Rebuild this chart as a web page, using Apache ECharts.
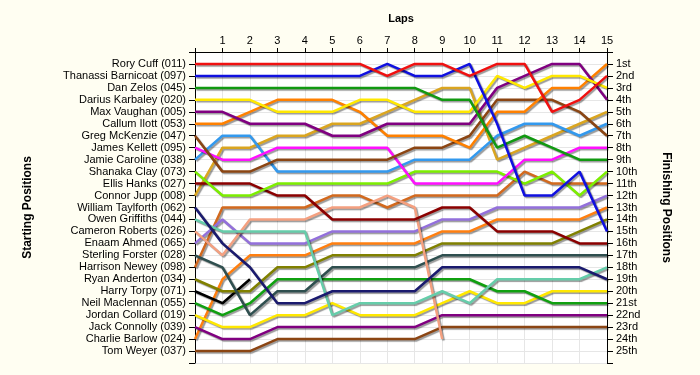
<!DOCTYPE html>
<html><head><meta charset="utf-8">
<script src="https://cdn.jsdelivr.net/npm/echarts@6/dist/echarts.min.js"></script>
<style>html,body{margin:0;padding:0;background:#FFFEF2;}#c{width:700px;height:375px;}</style>
</head><body><div id="c"></div>
<script>
var laps = [0,1,2,3,4,5,6,7,8,9,10,11,12,13,14,15];
var drivers = ["Rory Cuff (011)","Thanassi Barnicoat (097)","Dan Zelos (045)","Darius Karbaley (020)","Max Vaughan (005)","Callum Ilott (053)","Greg McKenzie (047)","James Kellett (095)","Jamie Caroline (038)","Shanaka Clay (073)","Ellis Hanks (027)","Connor Jupp (008)","William Taylforth (062)","Owen Griffiths (044)","Cameron Roberts (026)","Enaam Ahmed (065)","Sterling Forster (028)","Harrison Newey (098)","Ryan Anderton (034)","Harry Torpy (071)","Neil Maclennan (055)","Jordan Collard (019)","Jack Connolly (039)","Charlie Barlow (024)","Tom Weyer (037)"];
var finishLabels = ["1st","2nd","3rd","4th","5th","6th","7th","8th","9th","10th","11th","12th","13th","14th","15th","16th","17th","18th","19th","20th","21st","22nd","23rd","24th","25th"];
var colors = ["#F01010","#1010E0","#119911","#FFE800","#800080","#FF8000","#8B4513","#FF10FF","#3399EE","#7CEE00","#8B0000","#DAA520","#1A1A6E","#66CDAA","#F4A080","#9370DB","#2F4F4F","#D2691E","#808000","#000000","#10A010","#FFE800","#800080","#FF7F10","#8B4513"];

var rory      = [1,1,1,1,1,1,1,2,1,1,2,1,1,5,4,2];
var thanassi  = [2,2,2,2,2,2,2,1,2,2,1,6,12,12,10,15];
var dan       = [3,3,3,3,3,3,3,3,3,4,4,8,7,8,9,9];
var darius    = [4,4,4,5,5,5,4,4,5,5,5,2,3,2,2,3];
var max       = [5,5,6,6,6,7,7,6,6,6,6,3,2,1,1,4];
var callum    = [6,6,5,4,4,4,5,7,7,7,8,5,5,3,3,1];
var greg      = [7,10,10,9,9,9,9,9,8,8,7,4,4,4,5,7];
var james     = [8,9,9,8,8,8,8,8,11,11,11,11,9,9,8,8];
var jamie     = [9,7,7,10,10,10,10,10,9,9,9,7,6,6,7,6];
var shanaka   = [10,12,12,11,11,11,11,11,10,10,10,10,11,10,12,10];
var ellis     = [11,11,11,12,12,14,14,14,14,13,13,15,15,15,16,16];
var connor    = [12,8,8,7,7,6,6,5,4,3,3,9,8,7,6,5];
var william   = [13,16,18,21,21,20,20,20,20,18,18,18,18,18,18,19];
var owen      = [14,15,15,15,15,22,21,21,21,20,21,19,19,19,19,18];
var cameron   = [15,17,14,14,14,13,13,12,13,24];
var enaam     = [16,14,16,16,16,15,15,15,15,14,14,13,13,13,13,12];
var sterling  = [17,18,22,20,20,18,18,18,18,17,17,17,17,17,17,17];
var harrison  = [18,13,13,13,13,12,12,13,12,12,12,12,10,11,11,11];
var ryan      = [19,20,20,18,18,17,17,17,17,16,16,16,16,16,15,14];
var harry     = [20,21,19];
var neil      = [21,22,21,19,19,19,19,19,19,19,19,20,20,21,21,21];
var jordan    = [22,23,23,22,22,21,22,22,22,21,20,21,21,20,20,20];
var jack      = [23,24,24,23,23,23,23,23,23,22,22,22,22,22,22,22];
var charlie   = [24,19,17,17,17,16,16,16,16,15,15,14,14,14,14,13];
var tom       = [25,25,25,24,24,24,24,24,24,23,23,23,23,23,23,23];

var positions = [rory,thanassi,dan,darius,max,callum,greg,james,jamie,shanaka,ellis,connor,william,owen,cameron,enaam,sterling,harrison,ryan,harry,neil,jordan,jack,charlie,tom];

var FONT = "'Liberation Sans', Arial, sans-serif";
var series = positions.map(function(p, i){
  return {
    type:'line', name: drivers[i], symbol:'none', silent:true, animation:false,
    z: 2 + (25 - i) * 0.01,
    data: p.map(function(v, k){ return [laps[k], v]; }),
    lineStyle:{ color: colors[i], width: 2.5, shadowColor:'rgba(0,0,0,0.4)', shadowBlur:1, shadowOffsetX:1.5, shadowOffsetY:1.5 }
  };
});

var chart = echarts.init(document.getElementById('c'), null, {renderer:'canvas'});
chart.setOption({
  backgroundColor:'#FFFEF2',
  animation:false,
  grid:{ left:195, right:93, top:52, bottom:12, show:true, backgroundColor:'#FFFFFF', borderWidth:0 },
  xAxis:{
    type:'value', position:'top', min:0, max:15, interval:1,
    name:'Laps', nameLocation:'middle', nameGap:28,
    nameTextStyle:{ fontFamily:FONT, fontSize:11, fontWeight:'bold', color:'#000' },
    axisLine:{ show:true, onZero:false, lineStyle:{ color:'#000', width:1 } },
    axisTick:{ show:true, length:4, lineStyle:{ color:'#000' } },
    axisLabel:{ fontFamily:FONT, fontSize:11, color:'#000', margin:6,
      formatter:function(v){ return v === 0 ? '' : String(v); } },
    splitLine:{ show:true, lineStyle:{ color:'#E6E6E6', width:1 } }
  },
  yAxis:[
    { type:'value', position:'left', inverse:true, min:0, max:26, interval:1,
      name:'Starting Positions', nameLocation:'middle', nameGap:161, nameRotate:90,
      nameTextStyle:{ fontFamily:FONT, fontSize:12, fontWeight:'bold', color:'#000' },
      axisLine:{ show:true, onZero:false, lineStyle:{ color:'#000', width:1 } },
      axisTick:{ show:true, length:6, lineStyle:{ color:'#000' } },
      axisLabel:{ fontFamily:FONT, fontSize:11, color:'#000', margin:9,
        formatter:function(v){ return (v >= 1 && v <= 25) ? drivers[v-1] : ''; } },
      splitLine:{ show:true, lineStyle:{ color:'#E6E6E6', width:1 } }
    },
    { type:'value', position:'right', inverse:true, min:0, max:26, interval:1,
      name:'Finishing Positions', nameLocation:'middle', nameGap:53, nameRotate:-90,
      nameTextStyle:{ fontFamily:FONT, fontSize:12, fontWeight:'bold', color:'#000' },
      axisLine:{ show:true, onZero:false, lineStyle:{ color:'#000', width:1 } },
      axisTick:{ show:true, length:6, lineStyle:{ color:'#000' } },
      axisLabel:{ fontFamily:FONT, fontSize:11, color:'#000', margin:9,
        formatter:function(v){ return (v >= 1 && v <= 25) ? finishLabels[v-1] : ''; } },
      splitLine:{ show:false }
    }
  ],
  series: series
});
</script>
</body></html>
